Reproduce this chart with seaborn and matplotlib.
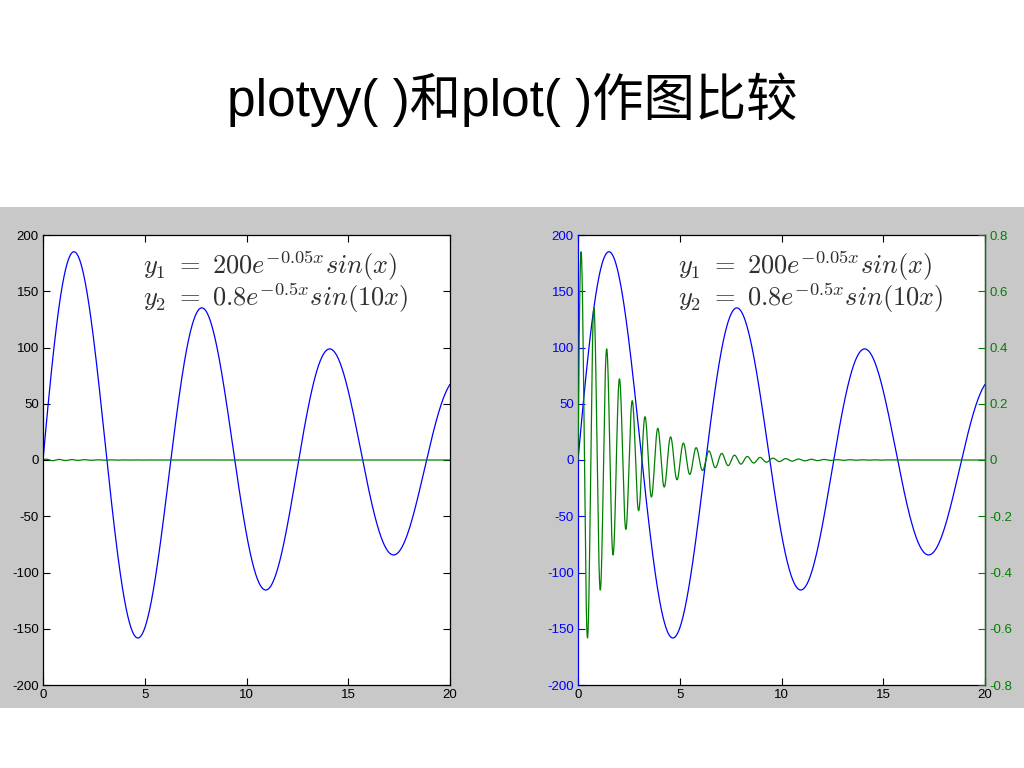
import numpy as np
import pandas as pd
import seaborn as sns
import matplotlib
matplotlib.use("Agg")
import matplotlib.pyplot as plt
from matplotlib.patches import Rectangle
from matplotlib.ticker import FixedLocator, FixedFormatter

# ===== values =====
title = "plotyy( )和plot( )作图比较"
x_limits = [0, 20]
x_ticks = [0, 5, 10, 15, 20]
y1_ticks = [-200, -150, -100, -50, 0, 50, 100, 150, 200]
y2_ticks = [-0.8, -0.6, -0.4, -0.2, 0, 0.2, 0.4, 0.6, 0.8]
y2_tick_labels = ["-0.8", "-0.6", "-0.4", "-0.2", "0", "0.2", "0.4", "0.6", "0.8"]
# parameters printed in the annotation: y = a * exp(k x) * sin(w x)
y1_amp, y1_decay, y1_freq = 200, -0.05, 1
y2_amp, y2_decay, y2_freq = 0.8, -0.5, 10
formula_1 = r"$y_1\ =\ 200e^{-0.05x}sin(x)$"
formula_2 = r"$y_2\ =\ 0.8e^{-0.5x}sin(10x)$"

x = np.linspace(x_limits[0], x_limits[1], 4001)
curves = pd.DataFrame({
    "x": x,
    "y1": y1_amp * np.exp(y1_decay * x) * np.sin(y1_freq * x),
    "y2": y2_amp * np.exp(y2_decay * x) * np.sin(y2_freq * x),
})

BLUE = "#0000ff"
GREEN = "#008000"
PANEL = "#c8c8c8"

sns.set_style("white")
plt.rcParams["font.family"] = ["Liberation Sans", "Noto Sans CJK SC", "DejaVu Sans"]
plt.rcParams["axes.unicode_minus"] = False
plt.rcParams["mathtext.fontset"] = "cm"

fig = plt.figure(figsize=(10.24, 7.68), dpi=100)
fig.patch.set_facecolor("white")
fig.patches.append(Rectangle((0, 1 - 708 / 768), 1, 501 / 768, transform=fig.transFigure,
                             facecolor=PANEL, edgecolor="none", zorder=-10))

fig.text(0.5, 1 - 116 / 768, title, ha="center", va="baseline", fontsize=37, color="black")


def style_axes(ax, color="black"):
    ax.set_facecolor("white")
    for s in ax.spines.values():
        s.set_visible(True)
        s.set_color("black")
        s.set_linewidth(0.9)
    ax.tick_params(direction="in", length=5, width=0.8, labelsize=9.5, pad=3,
                   top=True, bottom=True, left=True, right=False, colors="black")
    ax.set_xlim(*x_limits)
    ax.set_xticks(x_ticks)
    ax.set_ylim(-200, 200)
    ax.set_yticks(y1_ticks)
    ax.set_xlabel("")
    ax.set_ylabel("")


w = 407 / 1024
h = 450 / 768
bottom = 1 - 685 / 768

# ----- left: plot() with both curves on one axis -----
ax1 = fig.add_axes([43 / 1024, bottom, w, h])
sns.lineplot(data=curves, x="x", y="y1", ax=ax1, color=BLUE, linewidth=0.9, estimator=None)
sns.lineplot(data=curves, x="x", y="y2", ax=ax1, color=GREEN, linewidth=0.9, estimator=None)
style_axes(ax1)
ax1.tick_params(right=True)
ax1.text(4.9, 172, formula_1, fontsize=19, va="center", ha="left", color="#303030")
ax1.text(4.9, 144, formula_2, fontsize=19, va="center", ha="left", color="#303030")

# ----- right: plotyy() -----
ax2 = fig.add_axes([578 / 1024, bottom, w, h])
sns.lineplot(data=curves, x="x", y="y1", ax=ax2, color=BLUE, linewidth=0.9, estimator=None)
style_axes(ax2)
ax2.spines["left"].set_color(BLUE)
ax2.tick_params(axis="y", colors=BLUE)
ax2.tick_params(axis="x", colors="black")
ax2.text(4.9, 172, formula_1, fontsize=19, va="center", ha="left", color="#303030")
ax2.text(4.9, 144, formula_2, fontsize=19, va="center", ha="left", color="#303030")

ax3 = ax2.twinx()
sns.lineplot(data=curves, x="x", y="y2", ax=ax3, color=GREEN, linewidth=0.9, estimator=None)
ax3.set_xlim(*x_limits)
ax3.set_ylim(-0.8, 0.8)
ax3.yaxis.set_major_locator(FixedLocator(y2_ticks))
ax3.yaxis.set_major_formatter(FixedFormatter(y2_tick_labels))
ax3.set_ylabel("")
for name, s in ax3.spines.items():
    s.set_visible(name == "right")
ax3.spines["right"].set_color(GREEN)
ax3.spines["right"].set_linewidth(0.9)
ax3.tick_params(axis="y", direction="in", length=5, width=0.8, labelsize=9.5, pad=3,
                colors=GREEN, left=False, right=True)
ax3.tick_params(axis="x", bottom=False, top=False, labelbottom=False)
ax3.patch.set_visible(False)

fig.savefig("out.png", dpi=100, facecolor="white")
